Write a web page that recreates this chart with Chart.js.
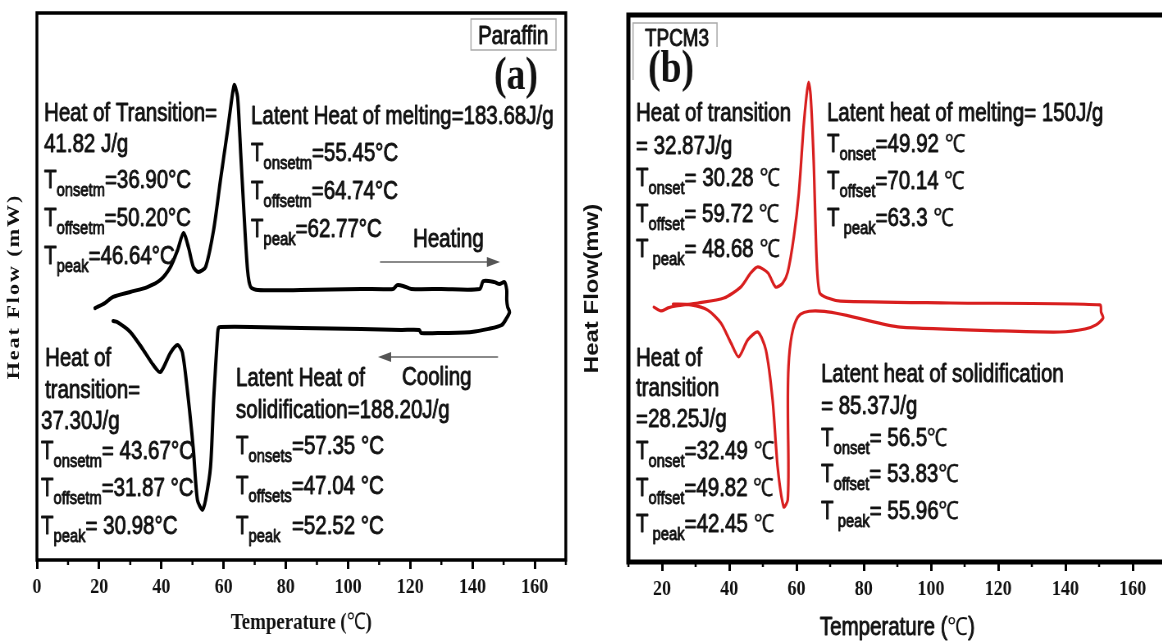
<!DOCTYPE html>
<html>
<head>
<meta charset="utf-8">
<script src="https://cdn.jsdelivr.net/npm/chart.js@4.4.1/dist/chart.umd.min.js"></script>
<style>
  html, body { margin: 0; padding: 0; background: #fff; width: 1162px; height: 641px; overflow: hidden; position: relative; }
  .panel { position: absolute; top: 0; height: 641px; transform: scaleX(0.82); transform-origin: 0 0; }
  #pa { left: 0; width: 707px; }
  #pb { left: 580px; width: 732px; }
</style>
</head>
<body>
<div class="panel" id="pa"><canvas id="chartA" width="707" height="641"></canvas></div>
<div class="panel" id="pb"><canvas id="chartB" width="732" height="641"></canvas></div>
<script>
// (a) Paraffin: heating run then cooling run (°C, mW)
const paraffinTemp = [18.7, 21.9, 24.5, 30.0, 35.5, 39.7, 42.9, 45.2, 47.1, 48.7, 50.3, 51.9, 54.2, 56.8, 59.0,
  61.3, 62.9, 63.5, 64.5, 65.5, 66.5, 67.7, 68.7, 71.0, 84.8, 104.2, 114.5, 115.8, 117.7, 120.3,
  130.0, 142.3, 143.5, 147.1, 148.7, 150.3, 151.0, 151.0, 151.3, 151.9,
  151.0, 149.4, 145.2, 139.7, 130.0, 123.5, 122.9, 117.1, 104.2, 84.8, 68.7, 59.0, 58.4, 58.1, 56.8,
  55.8, 54.2, 53.2, 51.6, 50.3, 48.7, 46.8, 45.2, 42.9, 39.7, 37.4, 34.2, 30.0, 25.8, 24.5];
const paraffinFlow = [-0.79, -0.60, -0.38, -0.20, -0.02, 0.24, 0.71, 1.33, 1.96, 1.44, 0.71, 0.53, 0.71, 2.07, 3.90,
  5.72, 7.07, 7.37, 6.93, 4.88, 2.80, 0.60, -0.02, -0.13, -0.13, -0.09, -0.09, 0.05, 0.02, -0.09,
  -0.09, -0.09, 0.20, 0.16, 0.09, 0.16, -0.13, -0.49, -0.75, -0.93,
  -1.15, -1.41, -1.55, -1.66, -1.70, -1.70, -1.59, -1.59, -1.55, -1.52, -1.48, -1.48, -1.50, -1.70, -4.15,
  -6.60, -7.81, -8.17, -7.81, -5.98, -4.15, -2.43, -2.14, -2.43, -3.13, -2.87, -2.32, -1.66, -1.30, -1.26];

// (b) TPCM3
const tpcmTemp = [17.6, 19.7, 21.8, 24.2, 30.7, 38.4, 43.4, 46.4, 48.5, 51.5, 53.8, 55.9, 57.4, 59.2, 60.7,
  62.1, 63.0, 63.6, 64.2, 65.1, 66.0, 66.9, 69.3, 73.1, 105.8, 150.3, 150.6, 151.2, 149.1, 145.8,
  138.4, 120.6, 90.9, 60.4, 57.4, 56.2, 54.4, 52.9, 50.9, 48.5, 45.5, 42.8, 40.5, 37.5, 33.6, 28.6, 23.3];
const tpcmFlow = [-0.68, -0.82, -0.71, -0.64, -0.53, -0.35, 0.05, 0.57, 0.79, 0.57, 0.05, 0.20, 0.60, 1.88, 3.49,
  5.90, 7.07, 7.55, 7.07, 4.70, 1.04, -0.16, -0.35, -0.46, -0.53, -0.60, -0.86, -1.08, -1.33, -1.48,
  -1.59, -1.55, -1.41, -1.04, -7.73, -7.99, -6.53, -4.08, -2.25, -1.59, -1.88, -2.50, -1.99, -1.26, -0.79, -0.60, -0.57];

const xMax = 170;
const flowMin = -10, flowMax = 10;

const SQ = 0.82; // the panels are squeezed horizontally
const SANS = '"Liberation Sans", Arial, sans-serif';
const SERIF = '"Liberation Serif", "Times New Roman", serif';

// page-pixel annotation layout, '_' = subscript, '~' = serif glyph
const notesA = [
  [44, 112, ['Heat of Transition=']],
  [44, 143, ['41.82 J/g']],
  [44, 179, ['T', '_onsetm', '=36.90°C']],
  [44, 217, ['T', '_offsetm', '=50.20°C']],
  [44, 255, ['T', '_peak', '=46.64°C']],
  [251, 115, ['Latent Heat of melting=183.68J/g']],
  [251, 152, ['T', '_onsetm', '=55.45°C']],
  [251, 190, ['T', '_offsetm', '=64.74°C']],
  [251, 228, ['T', '_peak', '=62.77°C']],
  [413, 238, ['Heating']],
  [45, 357, ['Heat of']],
  [45, 389, ['transition=']],
  [41, 420, ['37.30J/g']],
  [41, 450, ['T', '_onsetm', '= 43.67°C']],
  [41, 487, ['T', '_offsetm', '=31.87 °C']],
  [41, 525, ['T', '_peak', '= 30.98°C']],
  [402, 376, ['Cooling']],
  [236, 377, ['Latent Heat of']],
  [236, 409, ['solidification=188.20J/g']],
  [236, 445, ['T', '_onsets', '=57.35 °C']],
  [236, 485, ['T', '_offsets', '=47.04 °C']],
  [236, 525, ['T', '_peak', '  =52.52 °C']]
];
const notesB = [
  [636, 112, ['Heat of transition']],
  [636, 145, ['= 32.87J/g']],
  [636, 177, ['T', '_onset', '= 30.28 ', '~℃']],
  [636, 213, ['T', '_offset', '= 59.72 ', '~℃']],
  [636, 248, ['T', '_ peak', '= 48.68 ', '~℃']],
  [827, 112, ['Latent heat of melting= 150J/g']],
  [827, 143, ['T', '_onset', '=49.92 ', '~℃']],
  [827, 180, ['T', '_offset', '=70.14 ', '~℃']],
  [827, 217, ['T', '_ peak', '=63.3 ', '~℃']],
  [636, 357, ['Heat of']],
  [636, 387, ['transition']],
  [636, 418, ['=28.25J/g']],
  [636, 450, ['T', '_onset', '=32.49 ', '~℃']],
  [636, 487, ['T', '_offset', '=49.82 ', '~℃']],
  [636, 523, ['T', '_ peak', '=42.45 ', '~℃']],
  [821, 373, ['Latent heat of solidification']],
  [821, 405, ['= 85.37J/g']],
  [821, 437, ['T', '_onset', '= 56.5', '~℃']],
  [821, 473, ['T', '_offset', '= 53.83', '~℃']],
  [821, 510, ['T', '_ peak', '= 55.96', '~℃']]
];

// text with a light outline, so the regular face looks as heavy as the scan
function heavyText(ctx, t, x, y, w) {
  if (w > 0) {
    ctx.lineWidth = w;
    ctx.lineJoin = 'round';
    ctx.strokeStyle = ctx.fillStyle;
    ctx.strokeText(t, x, y);
  }
  ctx.fillText(t, x, y);
}

function richText(ctx, x, y, segs, size) {
  let cx = x;
  const base = y + size * 0.36;
  ctx.fillStyle = '#111';
  ctx.textAlign = 'left';
  ctx.textBaseline = 'alphabetic';
  segs.forEach(seg => {
    let t = seg, sub = false, serif = false;
    if (t[0] === '_') { sub = true; t = t.slice(1); }
    if (t[0] === '~') { serif = true; t = t.slice(1); }
    const fs = sub ? Math.round(size * 0.7) : size;
    ctx.font = fs + 'px ' + (serif ? SERIF : SANS);
    heavyText(ctx, t, cx, sub ? base + size * 0.32 : base, serif ? 0.4 : 0.9);
    cx += ctx.measureText(t).width;
  });
}

function arrow(ctx, x1, x2, y) {
  const dir = Math.sign(x2 - x1);
  ctx.strokeStyle = '#8a8a8a';
  ctx.fillStyle = '#555';
  ctx.lineWidth = 2;
  ctx.beginPath(); ctx.moveTo(x1, y); ctx.lineTo(x2 - dir * 12, y); ctx.stroke();
  ctx.beginPath(); ctx.moveTo(x2, y); ctx.lineTo(x2 - dir * 16, y - 5); ctx.lineTo(x2 - dir * 16, y + 5); ctx.closePath(); ctx.fill();
}

const decoPlugin = {
  id: 'deco',
  afterDraw(chart, args, o) {
    const ctx = chart.ctx, area = chart.chartArea, xs = chart.scales.x;
    const cx = px => (px - o.pageLeft) / SQ;
    ctx.save();
    // minor ticks
    ctx.strokeStyle = '#000';
    ctx.lineWidth = 2.5;
    for (let v = xs.min; v <= xs.max; v += 10) {
      if (v % 20 === 0) continue;
      const p = xs.getPixelForValue(v);
      ctx.beginPath(); ctx.moveTo(p, area.bottom); ctx.lineTo(p, area.bottom + 5); ctx.stroke();
    }
    // frame
    ctx.lineWidth = o.frame;
    ctx.strokeRect(area.left, area.top, area.right - area.left, area.bottom - area.top);

    // label box
    ctx.strokeStyle = '#aaa';
    ctx.lineWidth = 1.5;
    if (o.boxFull) {
      ctx.strokeRect(cx(o.box[0]), o.box[1], cx(o.box[2]) - cx(o.box[0]), o.box[3] - o.box[1]);
    } else {
      ctx.beginPath();
      ctx.moveTo(cx(o.box[0]), o.box[3]); ctx.lineTo(cx(o.box[0]), o.box[1]);
      ctx.lineTo(cx(o.box[2]), o.box[1]); ctx.lineTo(cx(o.box[2]), o.box[1] + 24);
      ctx.stroke();
    }
    richText(ctx, cx(o.boxText[0]), o.boxText[1], [o.boxText[2]], o.boxText[3]);

    // panel letter
    ctx.fillStyle = '#111';
    ctx.font = 'bold 46px ' + SERIF;
    ctx.textBaseline = 'middle';
    ctx.textAlign = 'left';
    ctx.fillText(o.letter[2], cx(o.letter[0]), o.letter[1]);

    o.notes.forEach(n => richText(ctx, cx(n[0]), n[1], n[2], 25));
    (o.arrows || []).forEach(a => arrow(ctx, cx(a[0]), cx(a[1]), a[2]));

    // axis titles
    ctx.fillStyle = '#111';
    ctx.textBaseline = 'middle';
    ctx.textAlign = 'left';
    ctx.font = o.xTitle.font;
    const w1 = ctx.measureText('Temperature (').width;
    const w3 = ctx.measureText(')').width;
    ctx.font = o.xTitle.degFont;
    const w2 = ctx.measureText('℃').width;
    const sx = (area.left + area.right) / 2 - (w1 + w2 + w3) / 2;
    ctx.font = o.xTitle.font;
    heavyText(ctx, 'Temperature (', sx, o.xTitle.y, o.xTitle.heavy);
    ctx.font = o.xTitle.degFont;
    ctx.fillText('℃', sx + w1, o.xTitle.y);
    ctx.font = o.xTitle.font;
    heavyText(ctx, ')', sx + w1 + w2, o.xTitle.y, o.xTitle.heavy);

    ctx.translate(cx(o.yTitle.x), (area.top + area.bottom) / 2);
    ctx.rotate(-Math.PI / 2);
    ctx.textAlign = 'center';
    ctx.font = o.yTitle.font;
    if (o.yTitle.spacing) ctx.letterSpacing = o.yTitle.spacing;
    ctx.fillText(o.yTitle.text, 0, 0);
    ctx.restore();
  }
};

function makeChart(id, temps, flows, color, width, xMin, pad, axisHeight, deco) {
  return new Chart(document.getElementById(id), {
    type: 'line',
    data: {
      datasets: [{
        data: temps.map((t, i) => ({ x: t, y: flows[i] })),
        borderColor: color,
        borderWidth: width,
        pointRadius: 0,
        tension: 0.25,
        borderJoinStyle: 'round',
        borderCapStyle: 'round',
        fill: false
      }]
    },
    options: {
      responsive: false,
      animation: false,
      events: [],
      layout: { padding: pad },
      plugins: { legend: { display: false }, tooltip: { enabled: false }, deco: deco },
      scales: {
        x: {
          type: 'linear',
          min: xMin,
          max: xMax,
          afterFit: s => { s.height = axisHeight; },
          border: { display: false },
          grid: {
            drawOnChartArea: false,
            tickLength: 9,
            tickWidth: 3,
            tickColor: c => (c.tick && c.tick.value % 20 === 0) ? '#000' : 'rgba(0,0,0,0)'
          },
          ticks: {
            stepSize: 10,
            autoSkip: false,
            maxRotation: 0,
            padding: 5,
            color: '#111',
            font: { family: SERIF, size: 22, weight: 'bold' },
            callback: v => (v % 20 === 0 ? v : '')
          }
        },
        y: { display: false, min: flowMin, max: flowMax }
      }
    },
    plugins: [decoPlugin]
  });
}

makeChart('chartA', paraffinTemp, paraffinFlow, '#000', 4, 0,
  { left: 45, top: 13, right: 17, bottom: 0 }, 81, {
    pageLeft: 0, frame: 3.5,
    box: [471, 19, 556, 50], boxFull: true, boxText: [478, 35, 'Paraffin', 25],
    letter: [494, 77, '(a)'],
    notes: notesA,
    arrows: [[380, 500, 262], [498, 378, 357]],
    xTitle: { y: 623, font: 'bold 23px ' + SERIF, degFont: '23px ' + SERIF, heavy: 0 },
    yTitle: { x: 14, text: 'Heat Flow (mW)', font: 'bold 22px ' + SERIF, spacing: '2px' }
  });

makeChart('chartB', tpcmTemp, tpcmFlow, '#d81e1e', 3.2, 10,
  { left: 59, top: 15, right: 17, bottom: 0 }, 79, {
    pageLeft: 580, frame: 5,
    box: [633, 23, 717, 80], boxFull: false, boxText: [645, 38, 'TPCM3', 23],
    letter: [648, 70, '(b)'],
    notes: notesB,
    xTitle: { y: 628, font: '25px ' + SANS, degFont: '25px ' + SERIF, heavy: 0.9 },
    yTitle: { x: 593, text: 'Heat Flow(mw)', font: 'bold 24px ' + SANS }
  });
</script>
</body>
</html>
